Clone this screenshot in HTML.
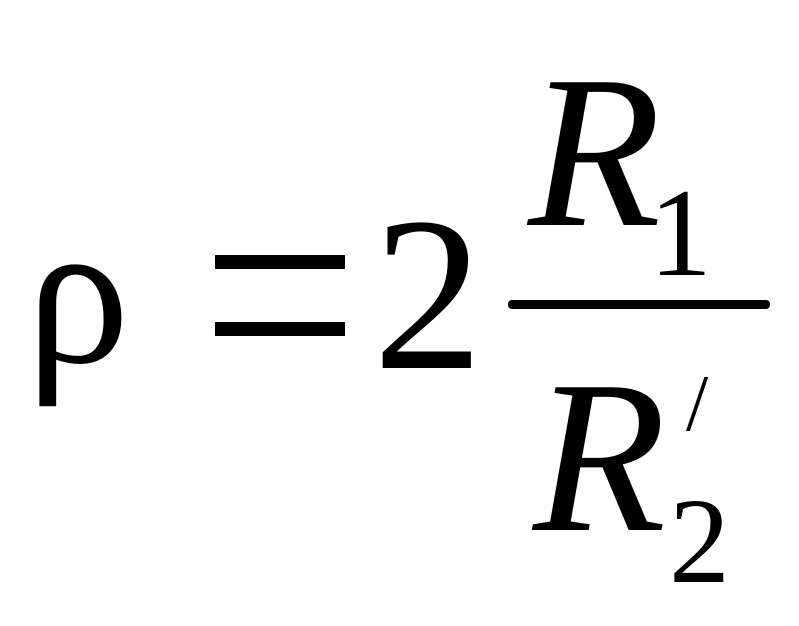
<!DOCTYPE html>
<html><head><meta charset="utf-8"><style>html,body{margin:0;padding:0;background:#fff;}svg{display:block}</style></head>
<body>
<svg width="799" height="626" viewBox="0 0 799 626" xmlns="http://www.w3.org/2000/svg" font-family="Liberation Serif, serif" fill="#000">
<text x="26" y="362" font-size="208">ρ</text>
<rect x="215" y="255" width="130" height="14"/>
<rect x="215" y="322" width="130" height="14"/>
<text x="373" y="368" font-size="220">2</text>
<text x="528" y="225" font-size="218" font-style="italic">R</text>
<text x="649" y="275" font-size="126">1</text>
<rect x="508" y="300" width="262" height="9" rx="4"/>
<text x="533" y="530" font-size="218" font-style="italic">R</text>
<text x="686" y="430" font-size="80">/</text>
<text x="669" y="582" font-size="122">2</text>
</svg>
</body></html>
